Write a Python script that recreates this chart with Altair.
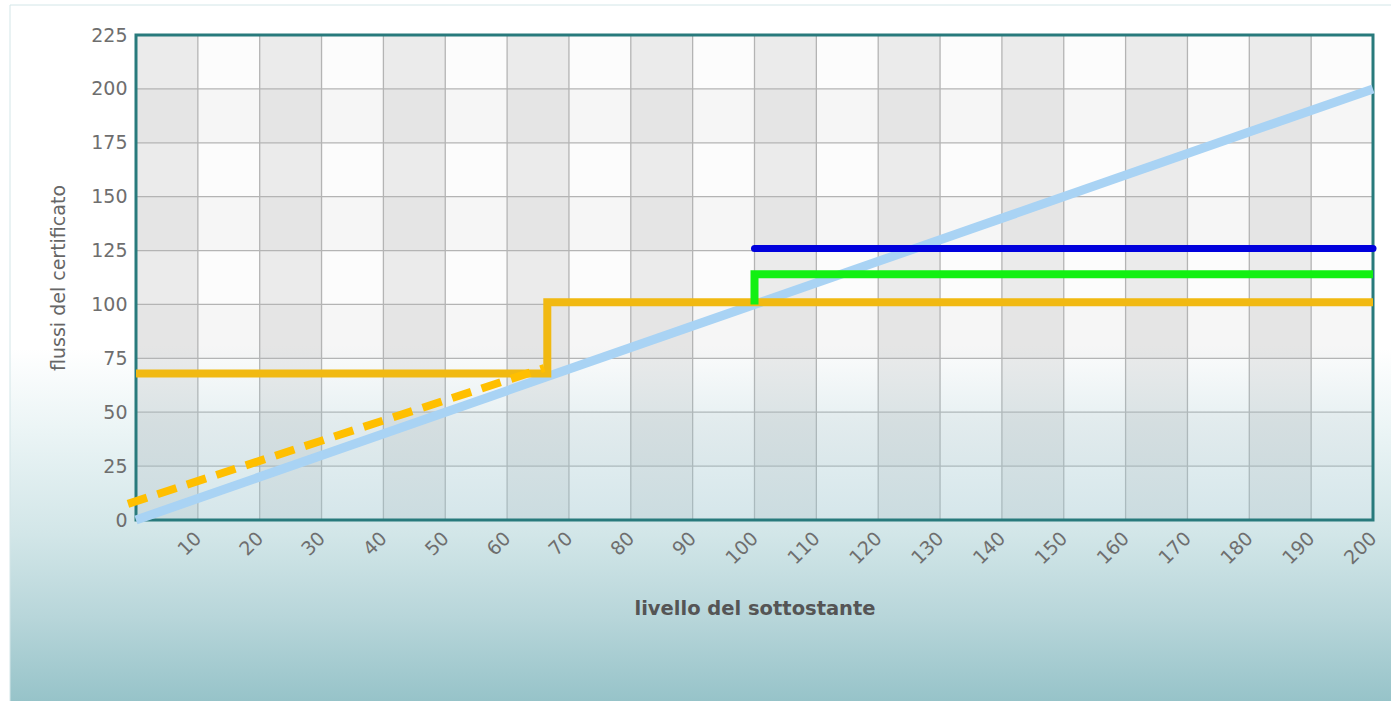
import altair as alt
import pandas as pd

# Plot area size in pixels (the frame drawn around the data region)
W, H = 1237, 485

# Axis ticks
x_ticks = list(range(10, 201, 10))
y_ticks = list(range(0, 226, 25))

# Payoff profiles (livello del sottostante -> flussi del certificato)
diag_x = [0, 200]
diag_y = [0, 200]
orange_x = [0, 66.5, 66.5, 200]
orange_y = [68, 68, 101, 101]
green_x = [100, 100, 200]
green_y = [100, 114, 114]
blue_x = [100, 200]
blue_y = [126, 126]
dash_x = [-1.3, 66]
dash_y = [7.5, 70.5]

# Shaded background columns (start of each 10-wide band) and lighter row bands
shade_col_start = [0, 20, 40, 60, 80, 100, 120, 140, 160, 180]
shade_row_start = [25, 75, 125, 175]

xs = alt.Scale(domain=[0, 200], nice=False, zero=False)
ys = alt.Scale(domain=[0, 225], nice=False, zero=False)

FONT = "DejaVu Sans"

x_axis = alt.Axis(
    values=x_ticks, labelAngle=315, labelAlign="right", labelBaseline="middle",
    labelPadding=15, ticks=False, domain=False, grid=False, labelFont=FONT,
    labelFontSize=19, labelColor="#6e6e6e", labelFlush=False, labelOverlap=False,
    title="livello del sottostante", titleFont=FONT, titleFontSize=19.5,
    titleFontWeight="bold", titleColor="#555555", titlePadding=32, zindex=2,
)
y_axis = alt.Axis(
    values=y_ticks, ticks=False, domain=False, grid=False, labelFont=FONT,
    labelFontSize=19, labelColor="#6e6e6e", labelPadding=9, labelFlush=False,
    labelOverlap=False, title="flussi del certificato", titleFont=FONT,
    titleFontSize=19, titleFontWeight="normal", titleColor="#666666",
    titlePadding=22, zindex=2,
)

one = pd.DataFrame({"k": [0]})

# Card background with a white-to-teal vertical gradient
card = alt.Chart(one).mark_rect(
    color=alt.LinearGradient(
        gradient="linear", x1=0, x2=0, y1=0, y2=1,
        stops=[
            alt.GradientStop(color="#ffffff", offset=0),
            alt.GradientStop(color="#ffffff", offset=0.48),
            alt.GradientStop(color="#eaf4f5", offset=0.60),
            alt.GradientStop(color="#d2e6e8", offset=0.74),
            alt.GradientStop(color="#b8d6da", offset=0.855),
            alt.GradientStop(color="#8fbfc5", offset=1),
        ],
    ),
    stroke="#d3e6e8", strokeWidth=1,
).encode(x=alt.value(-126), x2=alt.value(W + 40), y=alt.value(-30), y2=alt.value(H + 200))

plot_bg = alt.Chart(one).mark_rect(color="#fcfcfc").encode(
    x=alt.value(0), x2=alt.value(W), y=alt.value(0), y2=alt.value(H)
)

cols_df = pd.DataFrame({"x": shade_col_start, "x_end": [c + 10 for c in shade_col_start]})
col_bands = alt.Chart(cols_df).mark_rect(color="#ebebeb").encode(
    x=alt.X("x:Q", scale=xs, axis=x_axis), x2="x_end:Q",
    y=alt.value(0), y2=alt.value(H),
)

rows_df = pd.DataFrame({"y": shade_row_start, "y_end": [r + 25 for r in shade_row_start]})
row_bands = alt.Chart(rows_df).mark_rect(color="#000000", opacity=0.025).encode(
    y=alt.Y("y:Q", scale=ys, axis=y_axis), y2="y_end:Q",
    x=alt.value(0), x2=alt.value(W),
)

vgrid = alt.Chart(pd.DataFrame({"x": x_ticks[:-1]})).mark_rule(
    color="#b4b4b4", strokeWidth=1.3
).encode(x=alt.X("x:Q", scale=xs, axis=x_axis))

hgrid = alt.Chart(pd.DataFrame({"y": y_ticks[1:-1]})).mark_rule(
    color="#b4b4b4", strokeWidth=1.3
).encode(y=alt.Y("y:Q", scale=ys, axis=y_axis))

# Teal haze over the lower part of the plot area
haze = alt.Chart(one).mark_rect(
    color=alt.LinearGradient(
        gradient="linear", x1=0, x2=0, y1=0, y2=1,
        stops=[
            alt.GradientStop(color="rgba(154,197,207,0)", offset=0),
            alt.GradientStop(color="rgba(154,197,207,0)", offset=0.64),
            alt.GradientStop(color="rgba(154,197,207,0.22)", offset=0.8),
            alt.GradientStop(color="rgba(154,197,207,0.4)", offset=1),
        ],
    )
).encode(x=alt.value(0), x2=alt.value(W), y=alt.value(0), y2=alt.value(H))

frame = alt.Chart(one).mark_rect(
    fillOpacity=0, stroke="#287a7c", strokeWidth=3
).encode(x=alt.value(0), x2=alt.value(W), y=alt.value(0), y2=alt.value(H))


def series(xv, yv):
    return pd.DataFrame({"x": xv, "y": yv, "i": list(range(len(xv)))})


def line(df, color, width, **kw):
    return alt.Chart(df).mark_line(color=color, strokeWidth=width, **kw).encode(
        x=alt.X("x:Q", scale=xs, axis=x_axis),
        y=alt.Y("y:Q", scale=ys, axis=y_axis),
        order="i:O",
    )


diag = line(series(diag_x, diag_y), "#a9d3f4", 9)
orange = line(series(orange_x, orange_y), "#f1b912", 8, strokeJoin="miter")
green = line(series(green_x, green_y), "#12f012", 8, strokeJoin="miter")
blue = line(series(blue_x, blue_y), "#0000dc", 7, strokeCap="round")
dashed = line(series(dash_x, dash_y), "#ffbf00", 8, strokeDash=[20, 11])

chart = alt.layer(
    card, plot_bg, col_bands, row_bands, vgrid, hgrid, haze, frame,
    diag, orange, green, blue, dashed,
).properties(
    width=W, height=H,
    padding={"left": 136, "top": 35, "right": 18, "bottom": 181},
    autosize=alt.AutoSizeParams(type="none"),
    background="white",
).configure_view(stroke=None)

chart.save("out.html", embed_options={"renderer": "svg", "actions": False})
